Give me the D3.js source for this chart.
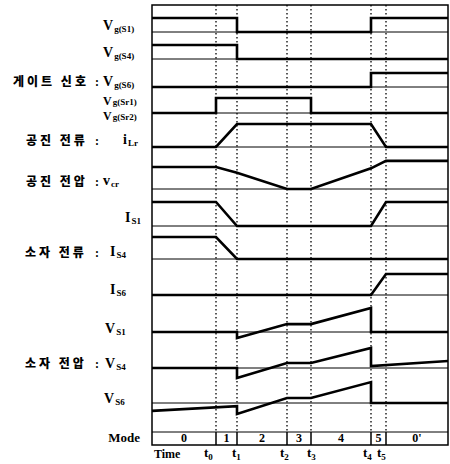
<!DOCTYPE html>
<html>
<head>
<meta charset="utf-8">
<script src="https://cdn.jsdelivr.net/npm/d3@7"></script>
<style>
  body { margin: 0; background: #fff; }
  svg text { fill: #000; }
  .lat { font-family: "Liberation Serif", "DejaVu Serif", serif; font-weight: bold; }
  .kor { font-family: "Noto Sans CJK KR", sans-serif; font-weight: 900; }
</style>
</head>
<body>
<div id="chart"></div>
<script>
// time marks (arbitrary units) and the end of the window
const timeNames = ['t0', 't1', 't2', 't3', 't4', 't5'];
const timeValues = [6.4, 8.5, 13.5, 15.9, 21.9, 23.4];
const timeEnd = 29.6;
const modeLabels = ['0', '1', '2', '3', '4', '5', "0'"];

// waveforms as [time, level] pairs
const vgS1 = [[0, 1], [8.5, 1], [8.5, 0], [21.9, 0], [21.9, 1], [29.6, 1]];
const vgS4 = [[0, 1], [8.5, 1], [8.5, 0], [29.6, 0]];
const vgS6 = [[0, 0], [21.9, 0], [21.9, 1], [29.6, 1]];
const vgSr = [[0, 0], [6.4, 0], [6.4, 1], [15.9, 1], [15.9, 0], [29.6, 0]];
const iLr = [[0, 0], [6.4, 0], [8.5, 1], [21.9, 1], [23.4, 0], [29.6, 0]];
const vCr = [[0, 1], [6.4, 1], [8.5, 0.74], [13.5, 0], [15.9, 0], [21.9, 0.94], [23.4, 1.28], [29.6, 1.28]];
const iS1 = [[0, 1], [6.4, 1], [8.5, 0], [21.9, 0], [23.4, 1], [29.6, 1]];
const iS4 = [[0, 1], [6.4, 1], [8.5, 0], [29.6, 0]];
const iS6 = [[0, 0], [21.9, 0], [23.4, 1], [29.6, 1]];
const vS1 = [[0, 0], [8.5, 0], [8.5, -0.27], [13.5, 0.36], [15.9, 0.36], [21.9, 1.09], [21.9, 0], [29.6, 0]];
const vS4 = [[0, 0], [8.5, 0], [8.5, -0.45], [13.5, 0.23], [15.9, 0.23], [21.9, 0.91], [21.9, 0.09], [29.6, 0.32]];
const vS6 = [[0, -0.36], [8.5, -0.14], [8.5, -0.5], [13.5, 0.23], [15.9, 0.23], [21.9, 0.95], [21.9, 0], [29.6, 0]];

const W = 450, H = 464;
const frameL = 152, frameR = 448, frameT = 5, modeTop = 432, modeBottom = 445;

// rows: baseline y and pixel height of level 1
const rows = [
  { data: vgS1, base: 32, amp: 14 },
  { data: vgS4, base: 59, amp: 14 },
  { data: vgS6, base: 87, amp: 14 },
  { data: vgSr, base: 113, amp: 15 },
  { data: iLr, base: 147, amp: 23 },
  { data: vCr, base: 189, amp: 22 },
  { data: iS1, base: 226, amp: 24 },
  { data: iS4, base: 259, amp: 22 },
  { data: iS6, base: 295, amp: 21 },
  { data: vS1, base: 332, amp: 22 },
  { data: vS4, base: 368, amp: 22 },
  { data: vS6, base: 403, amp: 22 }
];

const svg = d3.select('#chart').append('svg')
  .attr('width', W).attr('height', H);

const x = d3.scaleLinear().domain([0, timeEnd]).range([frameL, frameR]);

// row separators
svg.selectAll('.sep')
  .data(rows.map(r => r.base).concat([modeTop]))
  .enter().append('line')
  .attr('x1', frameL).attr('x2', frameR)
  .attr('y1', d => d).attr('y2', d => d)
  .attr('stroke', '#000').attr('stroke-width', 1);

// dotted time marks
svg.selectAll('.tmark')
  .data(timeValues)
  .enter().append('line')
  .attr('x1', d => x(d)).attr('x2', d => x(d))
  .attr('y1', frameT).attr('y2', modeTop)
  .attr('stroke', '#000').attr('stroke-width', 1.3)
  .attr('stroke-dasharray', '1.5,2.5');

// mode row dividers
svg.selectAll('.mdiv')
  .data(timeValues)
  .enter().append('line')
  .attr('x1', d => x(d)).attr('x2', d => x(d))
  .attr('y1', modeTop).attr('y2', modeBottom)
  .attr('stroke', '#000').attr('stroke-width', 1.5);

// frame
svg.append('rect')
  .attr('x', frameL).attr('y', frameT)
  .attr('width', frameR - frameL).attr('height', modeBottom - frameT)
  .attr('fill', 'none').attr('stroke', '#000').attr('stroke-width', 1.5);

// waveforms
rows.forEach(r => {
  const y = d3.scaleLinear().domain([0, 1]).range([r.base, r.base - r.amp]);
  const line = d3.line().x(d => x(d[0])).y(d => y(d[1]));
  svg.append('path')
    .datum(r.data)
    .attr('fill', 'none')
    .attr('stroke', '#000')
    .attr('stroke-width', 2.6)
    .attr('stroke-linejoin', 'miter')
    .attr('d', line);
});

// mode labels
const bounds = [0].concat(timeValues, [timeEnd]);
svg.selectAll('.mode')
  .data(modeLabels)
  .enter().append('text')
  .attr('class', 'lat')
  .attr('x', (d, i) => x((bounds[i] + bounds[i + 1]) / 2))
  .attr('y', 442)
  .attr('text-anchor', 'middle')
  .attr('font-size', 12)
  .text(d => d);

svg.append('text').attr('class', 'lat')
  .attr('x', 140).attr('y', 442).attr('text-anchor', 'end')
  .attr('font-size', 13).text('Mode');

// time labels
svg.append('text').attr('class', 'lat')
  .attr('x', 154).attr('y', 458).attr('font-size', 12).text('Time');

const timeLabelX = [204, 232, 280, 307, 363, 377];
timeNames.forEach((t, i) => {
  const txt = svg.append('text').attr('class', 'lat')
    .attr('x', timeLabelX[i]).attr('y', 457).attr('font-size', 13);
  txt.append('tspan').text(t[0]);
  txt.append('tspan').attr('dy', 3).attr('font-size', 9).text(t.slice(1));
});

// signal names
const sigLabels = [
  { main: 'V', sub: 'g(S1)', x: 103, y: 30, size: 14, dy: 2 },
  { main: 'V', sub: 'g(S4)', x: 103, y: 57, size: 14, dy: 2 },
  { main: 'V', sub: 'g(S6)', x: 103, y: 86, size: 14, dy: 2 },
  { main: 'V', sub: 'g(Sr1)', x: 103, y: 105, size: 12, dy: 0 },
  { main: 'V', sub: 'g(Sr2)', x: 103, y: 120, size: 12, dy: 0 },
  { main: 'i', sub: 'Lr', x: 123, y: 144, size: 14, dy: 2 },
  { main: 'v', sub: 'cr', x: 103, y: 185, size: 14, dy: 2 },
  { main: 'I', sub: 'S1', x: 125, y: 222, size: 14, dy: 2 },
  { main: 'I', sub: 'S4', x: 110, y: 256, size: 14, dy: 2 },
  { main: 'I', sub: 'S6', x: 110, y: 294, size: 14, dy: 2 },
  { main: 'V', sub: 'S1', x: 105, y: 333, size: 14, dy: 2 },
  { main: 'V', sub: 'S4', x: 105, y: 368, size: 14, dy: 2 },
  { main: 'V', sub: 'S6', x: 104, y: 403, size: 14, dy: 2 }
];
sigLabels.forEach(l => {
  const txt = svg.append('text').attr('class', 'lat')
    .attr('x', l.x).attr('y', l.y).attr('font-size', l.size);
  txt.append('tspan').text(l.main);
  txt.append('tspan').attr('dy', l.dy).attr('dx', 1).attr('font-size', 9).text(l.sub);
});

// group names (Korean)
const groupLabels = [
  { text: '게이트 신호', y: 86, x: 13 },
  { text: '공진 전류', y: 145, x: 26 },
  { text: '공진 전압', y: 186, x: 26 },
  { text: '소자 전류', y: 257, x: 25 },
  { text: '소자 전압', y: 368, x: 25 }
];
groupLabels.forEach(g => {
  svg.append('text').attr('class', 'kor')
    .attr('x', g.x).attr('y', g.y)
    .attr('font-size', 12).attr('letter-spacing', 3)
    .text(g.text);
  svg.append('text').attr('class', 'lat')
    .attr('x', 95).attr('y', g.y).attr('font-size', 12).text(':');
});
</script>
</body>
</html>
